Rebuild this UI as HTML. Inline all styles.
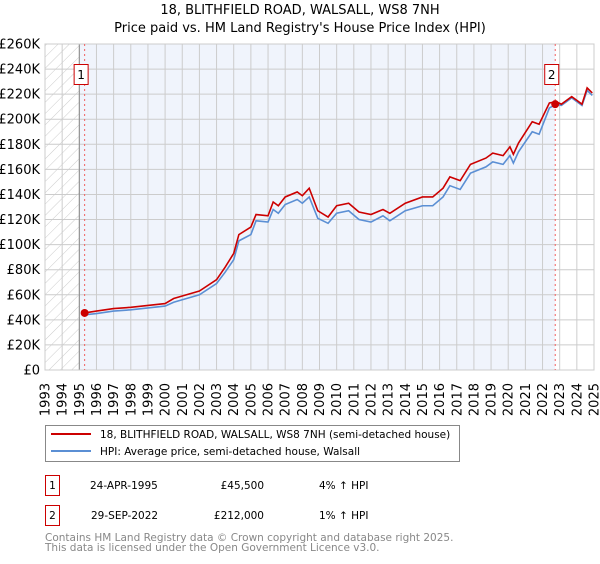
<!DOCTYPE html>
<html><head><meta charset="utf-8">
<style>
body{margin:0;background:#fff;font-family:"DejaVu Sans","Liberation Sans",sans-serif;}
svg text{font-family:"DejaVu Sans","Liberation Sans",sans-serif;}
</style></head>
<body>
<svg id="chart" width="600" height="560" viewBox="0 0 600 560" xmlns="http://www.w3.org/2000/svg">
<defs>
<pattern id="hatch" patternUnits="userSpaceOnUse" width="8" height="8" patternTransform="rotate(45)">
<line x1="0" y1="0" x2="0" y2="8" stroke="#ccc" stroke-width="1"/>
</pattern>
</defs>
<text x="300" y="14" font-size="13" text-anchor="middle">18, BLITHFIELD ROAD, WALSALL, WS8 7NH</text>
<text x="300" y="32" font-size="13" text-anchor="middle">Price paid vs. HM Land Registry's House Price Index (HPI)</text>
<g id="plot"></g>
<g>
<rect x="45.5" y="425.5" width="414" height="36" fill="#fff" stroke="#888"/>
<line x1="51" y1="434" x2="91" y2="434" stroke="#cc0000" stroke-width="2"/>
<text x="100" y="438" font-size="10.5">18, BLITHFIELD ROAD, WALSALL, WS8 7NH (semi-detached house)</text>
<line x1="51" y1="451" x2="91" y2="451" stroke="#5b8fd4" stroke-width="2"/>
<text x="100" y="455" font-size="10.5">HPI: Average price, semi-detached house, Walsall</text>
</g>
<g font-size="10.5">
<rect x="45.5" y="475.5" width="14" height="20" fill="#fff" stroke="#cc0000"/>
<text x="52.5" y="489" text-anchor="middle">1</text>
<text x="90" y="489">24-APR-1995</text>
<text x="264" y="489" text-anchor="end">£45,500</text>
<text x="319" y="489">4% ↑ HPI</text>
</g>
<g font-size="10.5">
<rect x="45.5" y="505.5" width="14" height="20" fill="#fff" stroke="#cc0000"/>
<text x="52.5" y="519" text-anchor="middle">2</text>
<text x="91" y="519">29-SEP-2022</text>
<text x="264" y="519" text-anchor="end">£212,000</text>
<text x="319" y="519">1% ↑ HPI</text>
</g>
<text x="45" y="541" font-size="10.5" fill="#888">Contains HM Land Registry data © Crown copyright and database right 2025.</text>
<text x="45" y="551" font-size="10.5" fill="#888">This data is licensed under the Open Government Licence v3.0.</text>
</svg>
<script>
const hpiYears=[1995.3,1996,1997,1998,1999,2000,2000.5,2001,2002,2003,2003.5,2004,2004.3,2005,2005.3,2006,2006.3,2006.6,2007,2007.7,2008,2008.4,2008.9,2009.5,2010,2010.7,2011.3,2012,2012.7,2013.1,2014,2015,2015.6,2016.2,2016.6,2017.2,2017.8,2018.7,2019.1,2019.7,2020.1,2020.3,2020.6,2021.4,2021.8,2022.4,2022.8,2023.1,2023.7,2024.3,2024.6,2024.9];
const hpiValues=[44,45,47,48,49.5,51,54,56,60,69,78,88,103,108,119,118,128,125,132,136,133,138,121,117,125,127,120,118,123,119,127,131,131,138,147,144,157,162,166,164,171,165,174,190,188,209,212,211,217,211,223,219];
const redValues=[45.5,47,49,50,51.5,53,57,59,63,72,82,93,108,114,124,123,134,131,138,142,139,145,127,122,131,133,126,124,128,125,133,138,138,145,154,151,164,169,173,171,178,172,181,198,196,213,214,212,218,212,225,221];
const yTicks=[0,20,40,60,80,100,120,140,160,180,200,220,240,260];
const yearTicks=[1993,1994,1995,1996,1997,1998,1999,2000,2001,2002,2003,2004,2005,2006,2007,2008,2009,2010,2011,2012,2013,2014,2015,2016,2017,2018,2019,2020,2021,2022,2023,2024,2025];
const saleYears=[1995.31,2022.74];
const salePrices=[45.5,212];
const saleLabels=["1","2"];

const L=45,R=594,T=44,B=370;
const xs=y=>L+(y-1993)/(2025-1993)*(R-L);
const ys=v=>B-v/260*(B-T);
const NS="http://www.w3.org/2000/svg";
const g=document.getElementById('plot');
function mk(t,a,p){const e=document.createElementNS(NS,t);for(const k in a)e.setAttribute(k,a[k]);(p||g).appendChild(e);return e;}

let e;
e=mk('rect',{x:L,y:T,width:R-L,height:B-T,fill:'#fff'});


e=mk('rect',{x:xs(1995),y:T,width:xs(saleYears[1])-xs(1995),height:B-T,fill:'#f0f4fc'});


e=mk('rect',{x:L,y:T,width:xs(1995)-L,height:B-T,fill:'url(#hatch)'});


yTicks.forEach(v=>{
  const l=mk('line',{x1:L,x2:R,y1:ys(v),y2:ys(v),stroke:'#cccccc','stroke-width':1});
  
  
  const t=mk('text',{x:L-5,y:ys(v)+4.5,'font-size':13,'text-anchor':'end'});
  
  
  t.textContent=v===0?'£0':'£'+v+'K';
});
yearTicks.forEach(yr=>{
  const l=mk('line',{x1:xs(yr),x2:xs(yr),y1:T,y2:B,stroke:'#cccccc','stroke-width':1});
  
  
  const x=xs(yr)+4.5;
  const t=mk('text',{x:x,y:383,'font-size':13,'text-anchor':'end',transform:`rotate(-90 ${x} 383)`});
  
  
  t.textContent=yr;
});
e=mk('line',{x1:xs(1995),x2:xs(1995),y1:T,y2:B,stroke:'#888','stroke-width':1});


e=mk('rect',{x:L,y:T,width:R-L,height:B-T,fill:'none',stroke:'#cccccc'});



e=mk('polyline',{points:hpiYears.map((y,i)=>xs(y)+','+ys(hpiValues[i])).join(' '),fill:'none',stroke:'#5b8fd4','stroke-width':1.6});


e=mk('polyline',{points:hpiYears.map((y,i)=>xs(y)+','+ys(redValues[i])).join(' '),fill:'none',stroke:'#cc0000','stroke-width':1.6});



saleYears.forEach((yr,i)=>{
  const l=mk('line',{x1:xs(yr),x2:xs(yr),y1:T,y2:B,stroke:'#f06060','stroke-width':1,'stroke-dasharray':'2,3'});
  
  
  const c=mk('circle',{cx:xs(yr),cy:ys(salePrices[i]),r:4,fill:'#cc0000'});
  
  
  const r=mk('rect',{x:xs(yr)-10.5,y:64.5,width:14,height:20,fill:'#fff',stroke:'#cc0000'});
  
  
  const t=mk('text',{x:xs(yr)-3.5,y:79,'font-size':12,'text-anchor':'middle'});
  
  
  t.textContent=saleLabels[i];
});
</script>
</body></html>
